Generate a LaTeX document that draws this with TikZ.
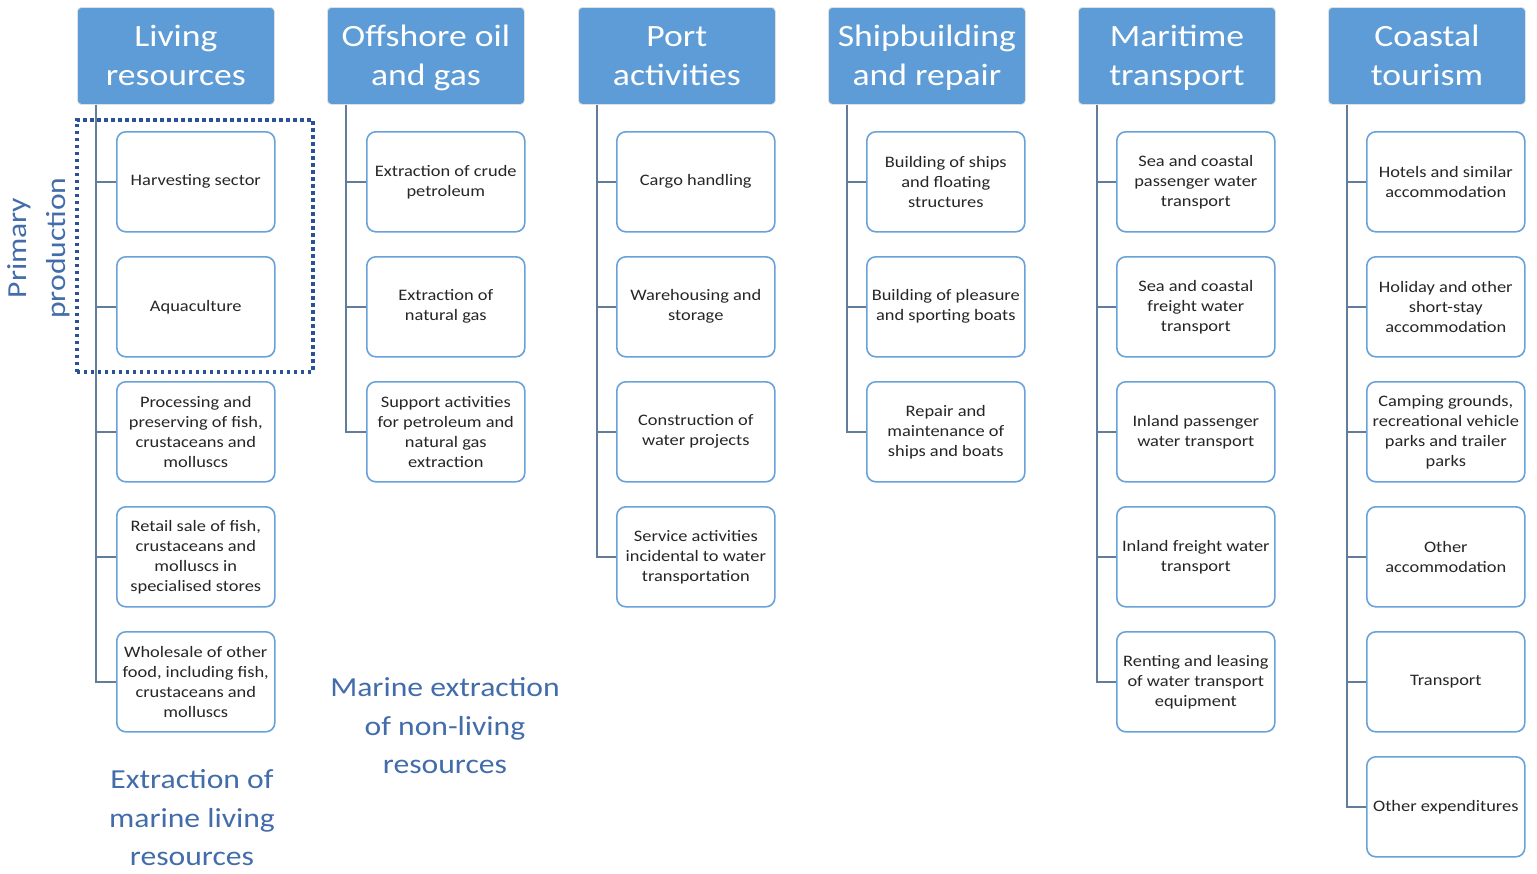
\documentclass[tikz,border=0pt]{standalone}
\usepackage{fontspec}
\setmainfont{Carlito}[FakeStretch=1.15]
\definecolor{hdrblue}{RGB}{93,156,214}
\definecolor{itemblue}{RGB}{105,162,218}
\definecolor{connc}{RGB}{98,124,156}
\definecolor{txt}{RGB}{38,38,38}
\definecolor{lblblue}{RGB}{66,108,170}
\definecolor{dotc}{RGB}{44,82,150}
\newcommand{\hs}{\rule[-5pt]{0pt}{30pt}}
\begin{document}
\begin{tikzpicture}[x=1pt,y=-1pt,
 hdr/.style={draw=black!12, line width=0.8pt, fill=hdrblue, rounded corners=4pt, minimum width=197pt, minimum height=97pt, text=white, font=\fontsize{31}{39}\selectfont, align=center, inner sep=0pt, anchor=north west},
 item/.style={draw=itemblue, line width=1.6pt, fill=white, rounded corners=9pt, minimum width=158pt, minimum height=100pt, text=txt, font=\fontsize{16}{20}\selectfont, align=center, inner sep=0pt, anchor=north west},
 conn/.style={draw=connc, line width=1.5pt},
 lbl/.style={text=lblblue, font=\fontsize{27.5}{38.5}\selectfont, align=center, inner sep=0pt}]
\useasboundingbox (0,0) rectangle (1537,873);

% headers
\node[hdr] (h1) at (77,7) {\hs Living\\\hs resources};
\node[hdr] (h2) at (327,7) {\hs Offshore oil\\\hs and gas};
\node[hdr] (h3) at (578,7) {\hs Port\\\hs activities};
\node[hdr] (h4) at (828,7) {\hs Shipbuilding\\\hs and repair};
\node[hdr] (h5) at (1078,7) {\hs Maritime\\\hs transport};
\node[hdr] (h6) at (1328,7) {\hs Coastal\\\hs tourism};

% column 1
\node[item] (c11) at (116,131) {Harvesting sector};
\node[item] (c12) at (116,256) {Aquaculture};
\node[item] (c13) at (116,381) {Processing and\\preserving of fish,\\crustaceans and\\molluscs};
\node[item] (c14) at (116,506) {Retail sale of fish,\\crustaceans and\\molluscs in\\specialised stores};
\node[item] (c15) at (116,631) {Wholesale of other\\food, including fish,\\crustaceans and\\molluscs};
% column 2
\node[item] (c21) at (366,131) {Extraction of crude\\petroleum};
\node[item] (c22) at (366,256) {Extraction of\\natural gas};
\node[item] (c23) at (366,381) {Support activities\\for petroleum and\\natural gas\\extraction};
% column 3
\node[item] (c31) at (616,131) {Cargo handling};
\node[item] (c32) at (616,256) {Warehousing and\\storage};
\node[item] (c33) at (616,381) {Construction of\\water projects};
\node[item] (c34) at (616,506) {Service activities\\incidental to water\\transportation};
% column 4
\node[item] (c41) at (866,131) {Building of ships\\and floating\\structures};
\node[item] (c42) at (866,256) {Building of pleasure\\and sporting boats};
\node[item] (c43) at (866,381) {Repair and\\maintenance of\\ships and boats};
% column 5
\node[item] (c51) at (1116,131) {Sea and coastal\\passenger water\\transport};
\node[item] (c52) at (1116,256) {Sea and coastal\\freight water\\transport};
\node[item] (c53) at (1116,381) {Inland passenger\\water transport};
\node[item] (c54) at (1116,506) {Inland freight water\\transport};
\node[item] (c55) at (1116,631) {Renting and leasing\\of water transport\\equipment};
% column 6
\node[item] (c61) at (1366,131) {Hotels and similar\\accommodation};
\node[item] (c62) at (1366,256) {Holiday and other\\short-stay\\accommodation};
\node[item] (c63) at (1366,381) {Camping grounds,\\recreational vehicle\\parks and trailer\\parks};
\node[item] (c64) at (1366,506) {Other\\accommodation};
\node[item] (c65) at (1366,631) {Transport};
\node[item] (c66) at (1366,756) {Other expenditures};

% connectors
\foreach \c/\n in {1/5,2/3,3/4,4/3,5/5,6/6}{
  \foreach \r in {1,...,\n}{
    \draw[conn] ([xshift=19pt]h\c.south west) |- (c\c\r.west);
  }
}

% dotted primary production box
\node[draw=dotc, line width=3.5pt, dash pattern=on 3.5pt off 3.5pt, minimum width=236pt, minimum height=252pt, anchor=north west, inner sep=0pt] (pp) at (75,118) {};
\node[lbl, rotate=90] (ppl) at (39,248) {Primary\\production};

% bottom labels
\node[lbl] (l1) at (192,818) {Extraction of\\marine living\\resources};
\node[lbl] (l2) at (445,726) {Marine extraction\\of non-living\\resources};
\end{tikzpicture}
\end{document}
